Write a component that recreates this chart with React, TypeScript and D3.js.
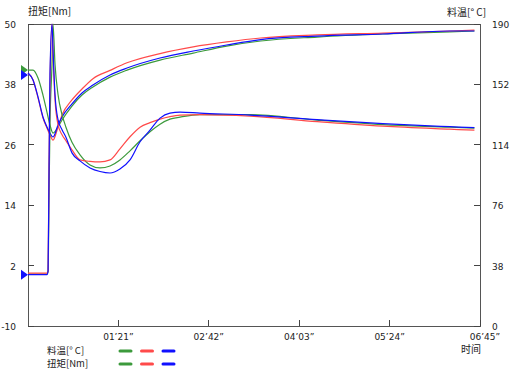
import { useEffect, useRef } from "react";
import * as d3 from "d3";

// time in seconds
const timeTicks = [81, 162, 243, 324, 405];
const timeTickLabels = ["01’21”", "02’42”", "04’03”", "05’24”", "06’45”"];
const torqueTicks = [-10, 2, 14, 26, 38, 50];
const tempTicks = [0, 38, 76, 114, 152, 190];

// 料温 (temperature, right axis)
const tempTime = [0, 4.5, 9, 13.4, 17, 19.7, 22.4, 26.9, 30.5, 39.4, 48.4, 58.2, 73.5, 88.7, 118.3, 148, 178, 208.5, 259, 318, 378, 400];
const tempGreen = [161, 161, 156, 145.3, 134.6, 126.4, 121.4, 125.2, 129.6, 138.4, 145.3, 150.4, 156.6, 161, 167.3, 171.7, 176.1, 179.3, 181.8, 183.7, 185, 185.6];
const tempRed = [159.2, 154.8, 143.5, 131, 124.5, 120.2, 117, 125.2, 132.7, 142.2, 149.1, 155.6, 160.8, 165.6, 171.4, 175.6, 178.7, 181.2, 183.1, 184.3, 185.6, 186.2];
const tempBlue = [159.2, 154.8, 144, 131.5, 125.2, 121.4, 118.9, 126.4, 131.5, 139.7, 146.6, 151.6, 157.9, 162.3, 168.6, 173, 176.8, 180.2, 182.4, 183.7, 185.6, 185.6];

// 扭矩 (torque, left axis)
const torqueTime = [0, 17, 18, 18.8, 19.7, 21.5, 22.4, 24.2, 26.9, 30.5, 34, 39.4, 46.6, 55.6, 64.5, 73.5, 82.4, 91.4, 100.4, 109.3, 118.3, 127.2, 136.2, 154, 199, 259, 318, 378, 400];
const torqueGreen = [0.3, 0.3, 0.8, 15, 30, 42, 50, 42, 36, 32, 29.5, 26.5, 24, 22, 21.4, 21.8, 23, 24.8, 26.8, 28.6, 30.1, 31.1, 31.5, 32, 32, 30.9, 30, 29.5, 29.3];
const torqueRed = [0.5, 0.5, 1, 22, 38, 50, 44, 35, 30, 28, 26.8, 25, 23, 22.7, 22.6, 23, 25.2, 27.6, 29.5, 30.4, 31.1, 31.6, 31.9, 32, 31.7, 30.6, 29.7, 29.1, 28.9];
const torqueBlue = [0.2, 0.2, 1, 20, 40, 50, 45, 36, 31, 29, 27.5, 24.4, 22.8, 21.4, 20.7, 20.4, 21.2, 23, 26.6, 28.9, 31.3, 32.3, 32.5, 32.3, 31.9, 31, 30.2, 29.6, 29.4];

const colors = ["#3c9a3c", "#ff4a4a", "#1010ff"];
const cjk = "'Noto Sans CJK SC', sans-serif";
const num = "'DejaVu Sans', sans-serif";

export default function App() {
  const svgRef = useRef<SVGSVGElement>(null);

  useEffect(() => {
    document.body.style.margin = "0";
    if (!svgRef.current) return;
    const svg = d3.select(svgRef.current);
    svg.selectAll("*").remove();

    const left = 28, right = 480, top = 24, bottom = 326;
    const x = d3.scaleLinear().domain([0, 405]).range([left, right]);
    const yL = d3.scaleLinear().domain([-10, 50]).range([bottom, top]);
    const yR = d3.scaleLinear().domain([0, 190]).range([bottom, top]);

    // Frame
    svg.append("rect")
      .attr("x", left).attr("y", top)
      .attr("width", right - left).attr("height", bottom - top)
      .attr("fill", "none").attr("stroke", "#555").attr("stroke-width", 1)
      .attr("shape-rendering", "crispEdges");

    // Left ticks (inward)
    torqueTicks.forEach((v) => {
      svg.append("line")
        .attr("x1", left).attr("x2", left + 6)
        .attr("y1", yL(v)).attr("y2", yL(v))
        .attr("stroke", "#444").attr("shape-rendering", "crispEdges");
      svg.append("text")
        .attr("x", 16).attr("y", yL(v) + 4)
        .attr("text-anchor", "end")
        .attr("font-family", num).attr("font-size", 9)
        .attr("fill", "#222")
        .text(v);
    });

    // Right ticks (inward)
    tempTicks.forEach((v) => {
      svg.append("line")
        .attr("x1", right - 6).attr("x2", right)
        .attr("y1", yR(v)).attr("y2", yR(v))
        .attr("stroke", "#444").attr("shape-rendering", "crispEdges");
      svg.append("text")
        .attr("x", 492).attr("y", yR(v) + 4)
        .attr("font-family", num).attr("font-size", 9)
        .attr("fill", "#222")
        .text(v);
    });

    // Bottom ticks
    timeTicks.forEach((v, i) => {
      svg.append("line")
        .attr("x1", x(v)).attr("x2", x(v))
        .attr("y1", bottom).attr("y2", bottom - 6)
        .attr("stroke", "#444").attr("shape-rendering", "crispEdges");
      svg.append("text")
        .attr("x", i === timeTicks.length - 1 ? x(v) + 5 : x(v))
        .attr("y", 340)
        .attr("text-anchor", "middle")
        .attr("font-family", num).attr("font-size", 9)
        .attr("fill", "#222")
        .text(timeTickLabels[i]);
    });

    // Axis titles
    svg.append("text").attr("x", 28).attr("y", 15)
      .attr("font-family", cjk).attr("font-size", 10).attr("fill", "#222")
      .text("扭矩[Nm]");
    svg.append("text").attr("x", 447).attr("y", 16)
      .attr("font-family", cjk).attr("font-size", 10).attr("fill", "#222")
      .text("料温[° C]");
    svg.append("text").attr("x", 461).attr("y", 353)
      .attr("font-family", cjk).attr("font-size", 10).attr("fill", "#222")
      .text("时间");

    // Series
    const tempLine = d3.line<number>()
      .x((_, i) => x(tempTime[i]))
      .y((d) => yR(d))
      .curve(d3.curveMonotoneX);
    const torqueLine = d3.line<number>()
      .x((_, i) => x(torqueTime[i]))
      .y((d) => yL(d))
      .curve(d3.curveMonotoneX);

    const plot = svg.append("g");
    [tempGreen, tempRed, tempBlue].forEach((s, i) => {
      plot.append("path").attr("d", tempLine(s) || "")
        .attr("fill", "none").attr("stroke", colors[i]).attr("stroke-width", 1.2);
    });
    [torqueGreen, torqueRed, torqueBlue].forEach((s, i) => {
      plot.append("path").attr("d", torqueLine(s) || "")
        .attr("fill", "none").attr("stroke", colors[i]).attr("stroke-width", 1.2);
    });

    // Start markers (triangles pointing right)
    const tri = (cy: number, color: string) => {
      svg.append("path")
        .attr("d", `M ${left - 7} ${cy - 5} L ${left} ${cy} L ${left - 7} ${cy + 5} Z`)
        .attr("fill", color);
    };
    tri(yR(tempGreen[0]), colors[0]);
    tri(yR(tempBlue[0]) + 2, colors[2]);
    tri(yL(torqueBlue[0]), colors[2]);

    // Legend
    const legend = [
      { label: "料温[° C]", y: 351 },
      { label: "扭矩[Nm]", y: 364 },
    ];
    legend.forEach((row) => {
      svg.append("text").attr("x", 47).attr("y", row.y + 3)
        .attr("font-family", cjk).attr("font-size", 9.5).attr("fill", "#222")
        .text(row.label);
      colors.forEach((c, i) => {
        svg.append("line")
          .attr("x1", 120 + i * 21.5).attr("x2", 131 + i * 21.5)
          .attr("y1", row.y).attr("y2", row.y)
          .attr("stroke", c).attr("stroke-width", 3).attr("stroke-linecap", "round");
      });
    });
  }, []);

  return (
    <svg ref={svgRef} width={510} height={372} style={{ display: "block", background: "#fff" }} />
  );
}
